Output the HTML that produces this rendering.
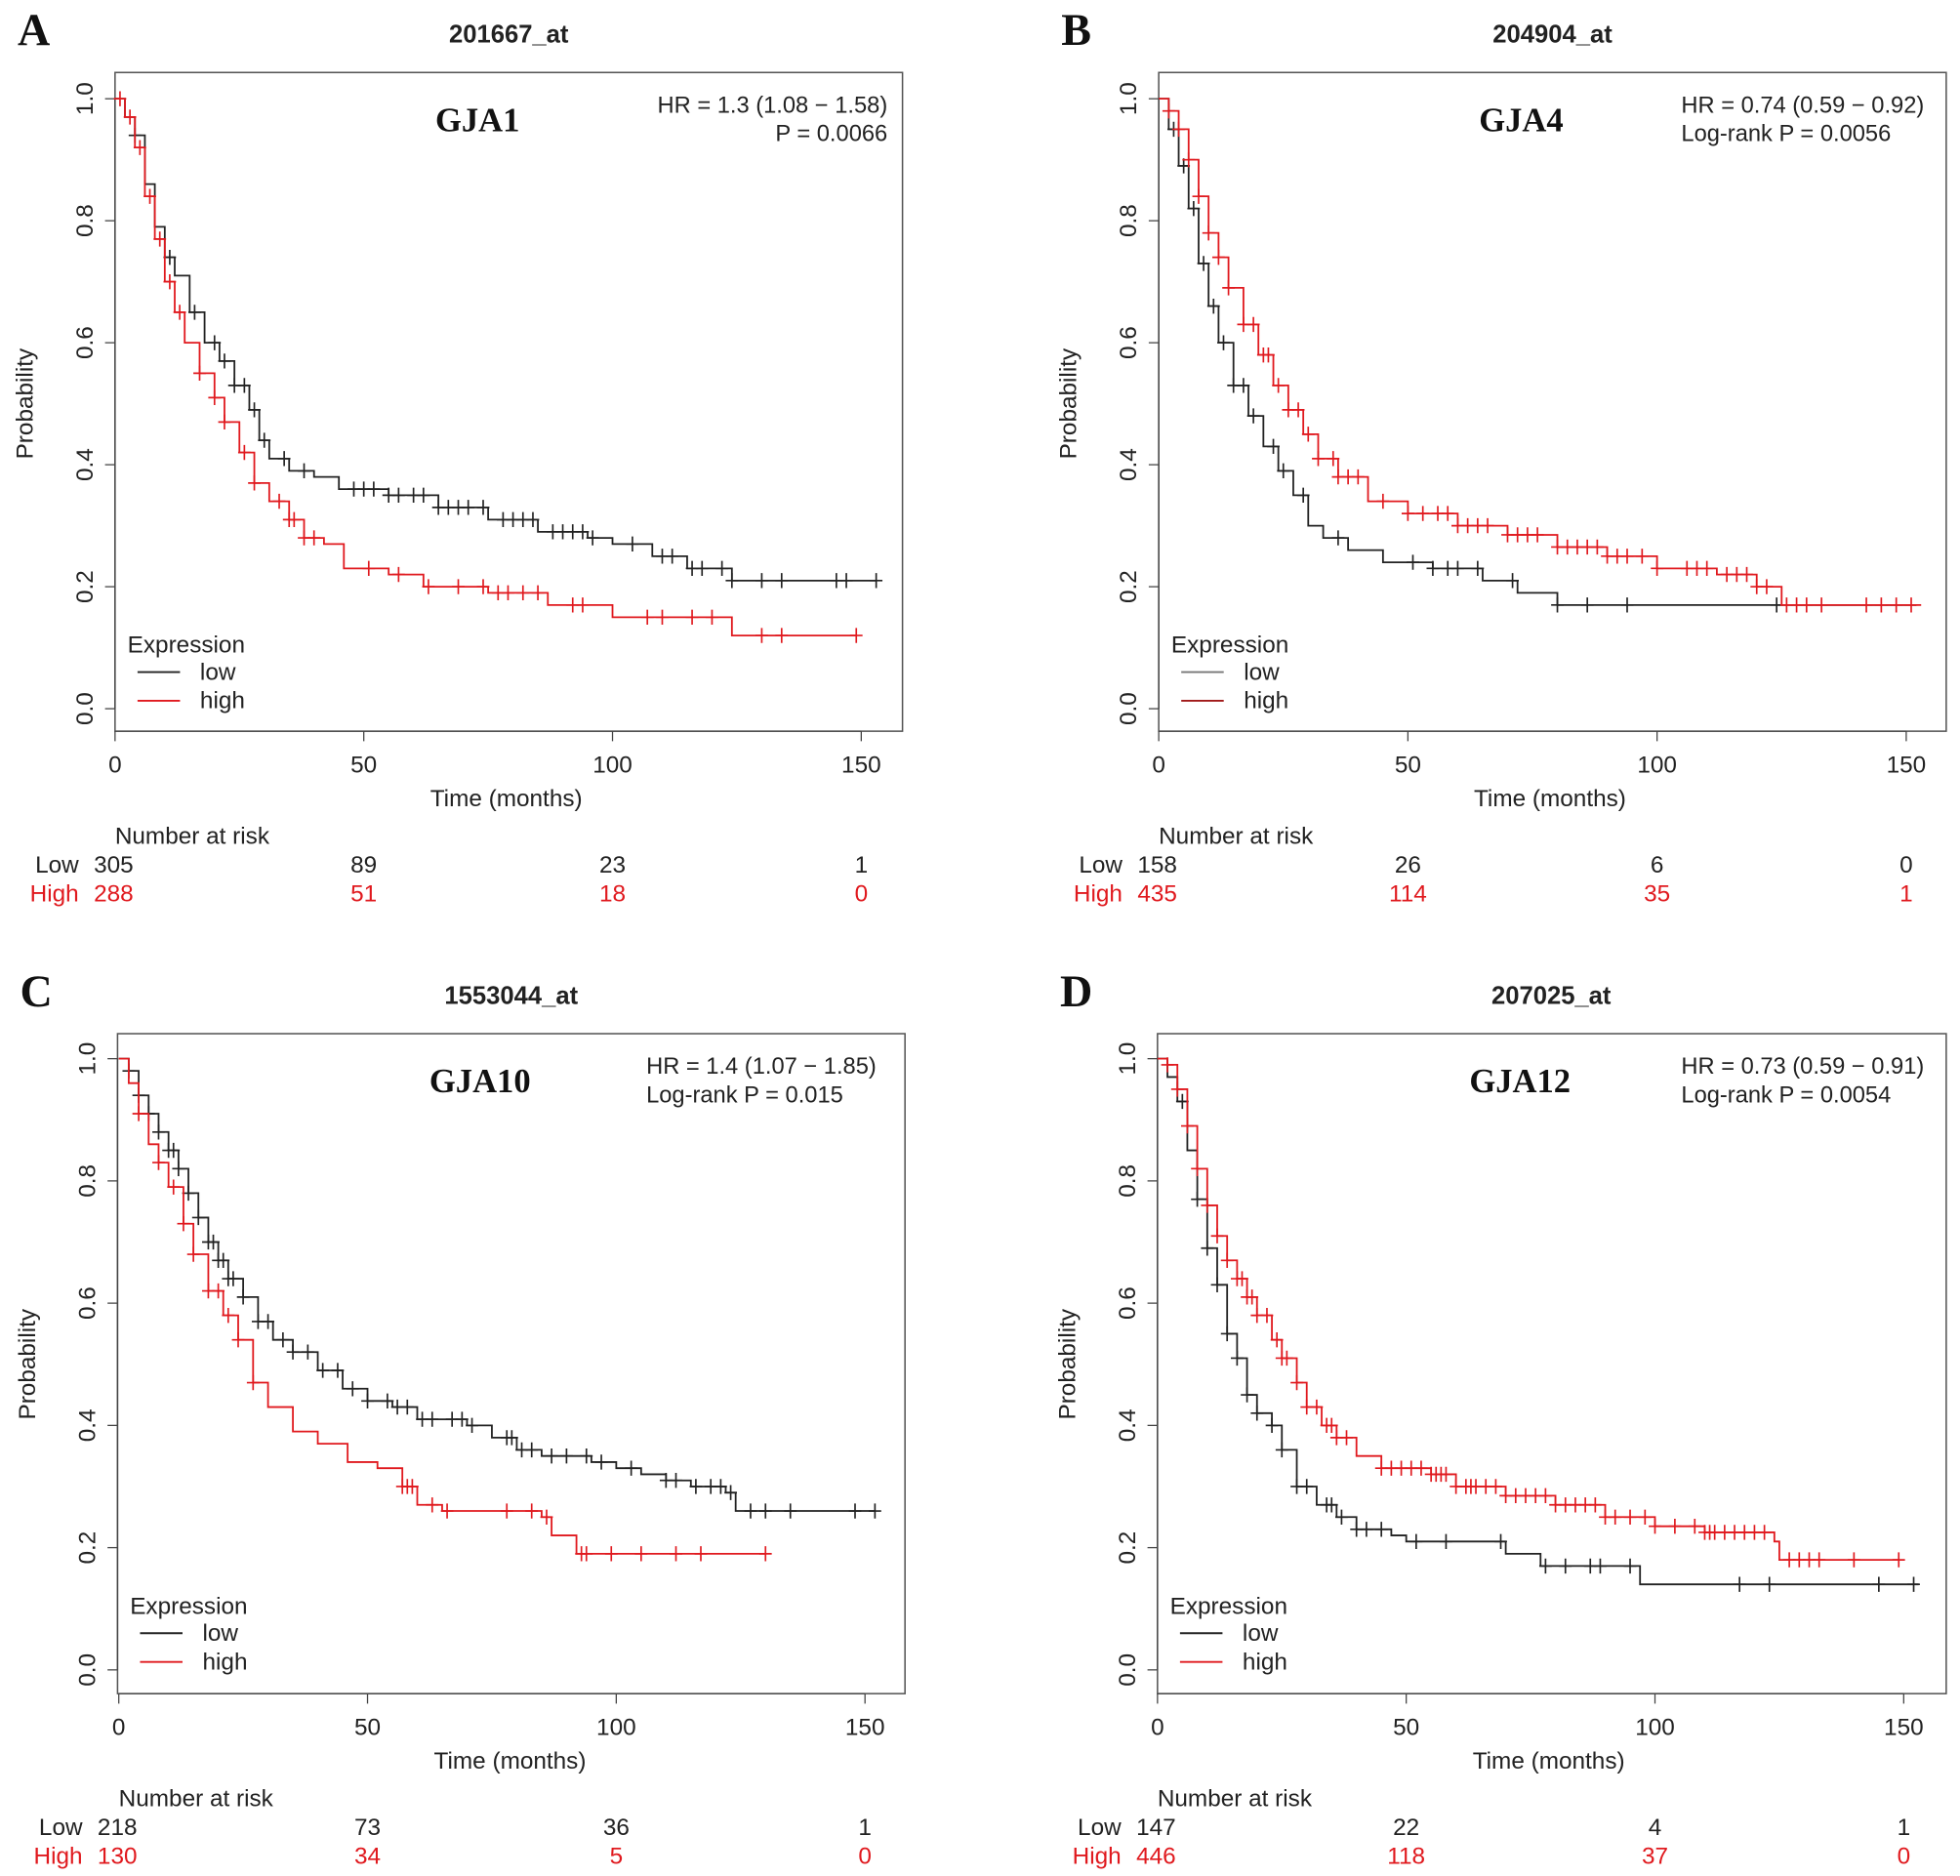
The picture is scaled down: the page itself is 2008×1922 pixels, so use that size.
<!DOCTYPE html>
<html><head><meta charset="utf-8"><style>
html,body{margin:0;padding:0;background:#fff}
svg{display:block}
text{font-family:"Liberation Sans",Arial,sans-serif;fill:#222}
.ser{font-family:"Liberation Serif","Times New Roman",serif;font-weight:bold;fill:#111}
</style></head><body>
<svg id="fig" width="2008" height="1922" viewBox="0 0 1568 1500.9" xmlns="http://www.w3.org/2000/svg"></svg>
<script>
// ---- Panel A: 201667_at (GJA1)
const A_low_t = [0,2,4,6,8,10,12,15,18,21,24,27,29,31,35,40,45,55,65,75,85,95,100,108,115,124];
const A_low_s = [1,0.97,0.94,0.86,0.79,0.74,0.71,0.65,0.60,0.57,0.53,0.49,0.44,0.41,0.39,0.38,0.36,0.35,0.33,0.31,0.29,0.28,0.27,0.25,0.23,0.21];
const A_low_end = 153;
const A_low_c = [4,11,16,20,22,24,26,28,30,34,38,48,50,52,55,57,60,62,65,67,69,71,74,78,80,82,84,88,90,92,94,96,104,110,112,116,118,122,124,130,134,145,147,153];
const A_high_t = [0,2,4,6,8,10,12,14,17,20,22,25,28,31,35,38,42,46,55,62,75,87,100,124];
const A_high_s = [1,0.97,0.92,0.84,0.77,0.70,0.65,0.60,0.55,0.51,0.47,0.42,0.37,0.34,0.31,0.28,0.27,0.23,0.22,0.20,0.19,0.17,0.15,0.12];
const A_high_end = 149;
const A_high_c = [1,3,5,7,9,11,13,17,20,22,26,28,33,35,36,38,40,51,57,63,69,74,77,79,82,85,92,94,107,110,116,120,130,134,149];
// ---- Panel B: 204904_at (GJA4)
const B_low_t = [0,2,4,6,8,10,12,15,18,21,24,27,30,33,38,45,55,65,72,80];
const B_low_s = [1,0.95,0.89,0.82,0.73,0.66,0.60,0.53,0.48,0.43,0.39,0.35,0.30,0.28,0.26,0.24,0.23,0.21,0.19,0.17];
const B_low_end = 152;
const B_low_c = [3,5,7,9,11,13,15,17,19,23,25,29,36,51,55,58,60,64,71,80,86,94,124];
const B_high_t = [0,2,4,6,8,10,12,14,17,20,23,26,29,32,36,42,50,60,70,80,90,100,112,120,125];
const B_high_s = [1,0.98,0.95,0.90,0.84,0.78,0.74,0.69,0.63,0.58,0.53,0.49,0.45,0.41,0.38,0.34,0.32,0.30,0.285,0.265,0.25,0.23,0.22,0.20,0.17];
const B_high_end = 153;
const B_high_c = [2,4,6,8,10,12,14,17,19,21,22,24,26,28,30,32,35,36,38,40,45,50,53,56,58,60,62,64,66,70,72,74,76,80,82,84,86,88,90,92,94,97,100,106,108,110,114,116,118,120,122,126,128,130,133,142,145,148,151];
// ---- Panel C: 1553044_at (GJA10)
const C_low_t = [0,2,4,6,8,10,12,14,16,18,20,22,25,28,31,35,40,45,50,55,60,70,75,80,85,95,100,105,110,115,122,124];
const C_low_s = [1,0.98,0.94,0.91,0.88,0.85,0.82,0.78,0.74,0.70,0.67,0.64,0.61,0.57,0.54,0.52,0.49,0.46,0.44,0.43,0.41,0.40,0.38,0.36,0.35,0.34,0.33,0.32,0.31,0.30,0.29,0.26];
const C_low_end = 152;
const C_low_c = [2,4,6,8,10,11,12,14,16,18,19,20,21,22,23,25,28,30,33,35,38,41,44,47,50,54,56,58,61,63,67,69,71,78,79,81,83,87,90,94,97,103,110,112,116,119,121,123,127,130,135,148,152];
const C_high_t = [0,2,4,6,8,10,13,15,18,21,24,27,30,35,40,46,52,57,60,65,85,87,92];
const C_high_s = [1,0.96,0.91,0.86,0.83,0.79,0.73,0.68,0.62,0.58,0.54,0.47,0.43,0.39,0.37,0.34,0.33,0.30,0.27,0.26,0.25,0.22,0.19];
const C_high_end = 130;
const C_high_c = [4,8,11,13,15,18,20,22,24,27,57,58,59,63,66,78,83,86,93,94,99,105,112,117,130];
// ---- Panel D: 207025_at (GJA12)
const D_low_t = [0,2,4,6,8,10,12,14,16,18,20,23,25,28,32,36,40,47,50,70,77,97];
const D_low_s = [1,0.97,0.93,0.85,0.77,0.69,0.63,0.55,0.51,0.45,0.42,0.40,0.36,0.30,0.27,0.25,0.23,0.22,0.21,0.19,0.17,0.14];
const D_low_end = 153;
const D_low_c = [5,8,10,12,14,16,18,20,23,25,28,30,34,35,37,40,42,45,52,58,69,78,82,87,89,95,117,123,145,152];
const D_high_t = [0,2,4,6,8,10,12,14,16,18,20,23,25,28,30,33,36,40,45,55,60,70,80,90,100,110,124,125];
const D_high_s = [1,0.99,0.95,0.89,0.82,0.76,0.71,0.67,0.64,0.61,0.58,0.54,0.51,0.47,0.43,0.40,0.38,0.35,0.33,0.32,0.30,0.285,0.27,0.25,0.235,0.225,0.21,0.18];
const D_high_end = 149;
const D_high_c = [2,4,6,8,10,12,14,16,17,18,19,20,22,24,25,26,28,30,32,34,35,36,38,45,47,49,51,53,55,56,57,58,60,62,63,64,66,68,70,72,74,76,78,80,82,84,86,88,90,92,95,98,100,104,108,110,111,112,114,116,118,120,122,127,129,131,133,140,149];
// ---- tick labels & risk tables
const xTicks = [0,50,100,150];
const yTicks = [0,0.2,0.4,0.6,0.8,1.0];
const A_risk_low = [305,89,23,1], A_risk_high = [288,51,18,0];
const B_risk_low = [158,26,6,0], B_risk_high = [435,114,35,1];
const C_risk_low = [218,73,36,1], C_risk_high = [130,34,5,0];
const D_risk_low = [147,22,4,1], D_risk_high = [446,118,37,0];

const NS="http://www.w3.org/2000/svg";
const svg=document.getElementById('fig');
function mk(tag,attrs,parent,txt){const e=document.createElementNS(NS,tag);for(const k in attrs)e.setAttribute(k,attrs[k]);if(txt!==undefined)e.textContent=txt;(parent||svg).appendChild(e);return e;}

function panel(o){
  const g=mk('g',{});
  
  
  const X=t=>o.x0+(t/150)*(o.x150-o.x0);
  const Y=s=>o.y0+s*(o.y1-o.y0);
  const box=mk('rect',{x:o.bx,y:o.by,width:o.bw,height:o.bh,fill:'none',stroke:'#555','stroke-width':1.2},g);
  
  const lt=mk('text',{x:o.bx-78,y:o.by-22,'font-size':36,class:'ser'},g,o.letter);
  
  const ti=mk('text',{x:o.bx+315,y:o.by-24,'font-size':20,'font-weight':'bold','text-anchor':'middle'},g,o.title);
  
  const gn=mk('text',{x:o.bx+290,y:o.by+47,'font-size':27,class:'ser','text-anchor':'middle'},g,o.gene);
  
  o.stat.forEach((s,i)=>{const t=mk('text',{x:o.bx+o.statX,y:o.by+32+i*23,'font-size':18.5,'text-anchor':o.statAnchor},g,s);
    });
  const xa=mk('g',{},g);
  mk('line',{x1:X(0),x2:X(150),y1:o.by+o.bh,y2:o.by+o.bh,stroke:'#444'},xa);
  xTicks.forEach(v=>{mk('line',{x1:X(v),x2:X(v),y1:o.by+o.bh,y2:o.by+o.bh+8,stroke:'#444'},xa);
    const t=mk('text',{x:X(v),y:o.by+o.bh+33,'font-size':19,'text-anchor':'middle'},xa,String(v));
    });
  const xl=mk('text',{x:X(0)+313,y:o.by+o.bh+60,'font-size':19,'text-anchor':'middle'},g,'Time  (months)');
  
  const ya=mk('g',{},g);
  mk('line',{x1:o.bx,x2:o.bx,y1:Y(0),y2:Y(1),stroke:'#444'},ya);
  yTicks.forEach(v=>{mk('line',{x1:o.bx-8,x2:o.bx,y1:Y(v),y2:Y(v),stroke:'#444'},ya);
    const t=mk('text',{x:0,y:0,'font-size':19,'text-anchor':'middle',transform:`translate(${o.bx-18},${Y(v)}) rotate(-90)`},ya,v.toFixed(1));
    });
  const yl=mk('text',{x:0,y:0,'font-size':19,'text-anchor':'middle',transform:`translate(${o.bx-66},${Y(0.5)}) rotate(-90)`},g,'Probability');
  
  function curve(ts,ss,end,cens,col,name){
    const cg=mk('g',{},g);
    let d=`M${X(ts[0])},${Y(ss[0])}`;
    for(let i=1;i<ts.length;i++){d+=` H${X(ts[i])} V${Y(ss[i])}`;}
    d+=` H${X(end)}`;
    const p=mk('path',{d:d,fill:'none',stroke:col,'stroke-width':1.4},cg);
    
    const sAt=t=>{let s=ss[0];for(let i=0;i<ts.length;i++){if(ts[i]<=t)s=ss[i];}return s;};
    cens.forEach(c=>{const cx=X(c),cy=Y(sAt(c));
      const m=mk('path',{d:`M${cx-5},${cy} H${cx+5} M${cx},${cy-6} V${cy+6}`,stroke:col,'stroke-width':1.3},cg);
      });
  }
  curve(o.lowT,o.lowS,o.lowEnd,o.lowC,'#222','low-curve');
  curve(o.highT,o.highS,o.highEnd,o.highC,'#e0191e','high-curve');
  const lg=mk('g',{},g);
  mk('text',{x:o.bx+10,y:Y(0.1)+4,'font-size':19},lg,'Expression');
  mk('line',{x1:o.bx+18,x2:o.bx+52,y1:Y(0.06),y2:Y(0.06),stroke:o.legLow,'stroke-width':1.5},lg);
  mk('text',{x:o.bx+68,y:Y(0.06)+6,'font-size':19},lg,'low');
  mk('line',{x1:o.bx+18,x2:o.bx+52,y1:Y(0.013),y2:Y(0.013),stroke:o.legHigh,'stroke-width':1.5},lg);
  mk('text',{x:o.bx+68,y:Y(0.013)+6,'font-size':19},lg,'high');
  const rt=mk('g',{},g);
  const ry=o.by+o.bh;
  mk('text',{x:X(0),y:ry+90,'font-size':19},rt,'Number at risk');
  mk('text',{x:X(0)-29,y:ry+113,'font-size':19,'text-anchor':'end'},rt,'Low');
  mk('text',{x:X(0)-29,y:ry+136,'font-size':19,'text-anchor':'end',style:'fill:#e0191e'},rt,'High');
  xTicks.forEach((v,i)=>{
    const a=mk('text',{x:i===0?X(v)-17:X(v),y:ry+113,'font-size':19,'text-anchor':i===0?'start':'middle'},rt,String(o.rLow[i]));
    
    const b=mk('text',{x:i===0?X(v)-17:X(v),y:ry+136,'font-size':19,'text-anchor':i===0?'start':'middle',style:'fill:#e0191e'},rt,String(o.rHigh[i]));
    });
}
panel({letter:'A',title:'201667_at',gene:'GJA1',stat:['HR = 1.3  (1.08 − 1.58)','P = 0.0066'],statX:618,statAnchor:'end',
  bx:92,by:58,bw:630,bh:527,x0:92,x150:689,y0:567,y1:79,
  lowT:A_low_t,lowS:A_low_s,lowEnd:A_low_end,lowC:A_low_c,highT:A_high_t,highS:A_high_s,highEnd:A_high_end,highC:A_high_c,
  legLow:'#222',legHigh:'#e0191e',rLow:A_risk_low,rHigh:A_risk_high});
panel({letter:'B',title:'204904_at',gene:'GJA4',stat:['HR = 0.74 (0.59 − 0.92)','Log-rank P = 0.0056'],statX:418,statAnchor:'start',
  bx:927,by:58,bw:630,bh:527,x0:927,x150:1525,y0:567,y1:79,
  lowT:B_low_t,lowS:B_low_s,lowEnd:B_low_end,lowC:B_low_c,highT:B_high_t,highS:B_high_s,highEnd:B_high_end,highC:B_high_c,
  legLow:'#777',legHigh:'#a01818',rLow:B_risk_low,rHigh:B_risk_high});
panel({letter:'C',title:'1553044_at',gene:'GJA10',stat:['HR = 1.4 (1.07 − 1.85)','Log-rank P = 0.015'],statX:423,statAnchor:'start',
  bx:94,by:827,bw:630,bh:528,x0:95,x150:692,y0:1336,y1:847,
  lowT:C_low_t,lowS:C_low_s,lowEnd:C_low_end,lowC:C_low_c,highT:C_high_t,highS:C_high_s,highEnd:C_high_end,highC:C_high_c,
  legLow:'#222',legHigh:'#e0191e',rLow:C_risk_low,rHigh:C_risk_high});
panel({letter:'D',title:'207025_at',gene:'GJA12',stat:['HR = 0.73 (0.59 − 0.91)','Log-rank P = 0.0054'],statX:419,statAnchor:'start',
  bx:926,by:827,bw:631,bh:528,x0:926,x150:1523,y0:1336,y1:847,
  lowT:D_low_t,lowS:D_low_s,lowEnd:D_low_end,lowC:D_low_c,highT:D_high_t,highS:D_high_s,highEnd:D_high_end,highC:D_high_c,
  legLow:'#222',legHigh:'#e0191e',rLow:D_risk_low,rHigh:D_risk_high});
</script>
</body></html>
